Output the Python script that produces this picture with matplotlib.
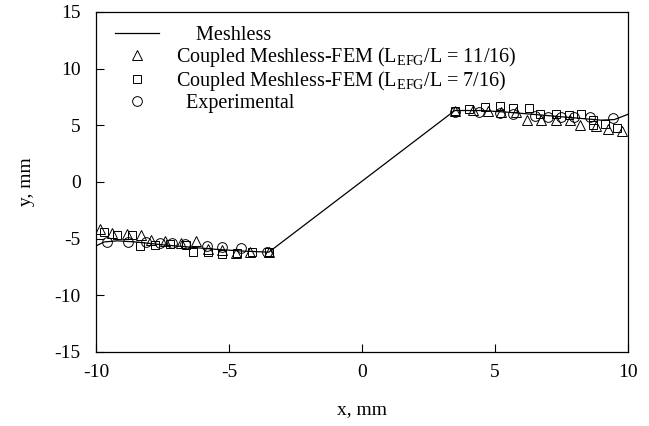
import matplotlib
matplotlib.use('Agg')
import matplotlib.pyplot as plt

plt.rcParams['font.family'] = ['Liberation Serif', 'DejaVu Serif']
plt.rcParams['mathtext.fontset'] = 'custom'
plt.rcParams['mathtext.rm'] = 'Liberation Serif'
plt.rcParams['axes.unicode_minus'] = False

# Meshless solution (line)
mesh_x = [-10, -9.7, -9.2, -8.5, -7.5, -6.5, -5.5, -4.5, -3.5,
          3.5, 4.5, 5.5, 6.5, 7.5, 8.5, 9.0, 9.5, 10]
mesh_y = [-5.65, -5.3, -5.2, -5.3, -5.55, -5.75, -5.95, -6.1, -6.2,
          6.3, 6.3, 6.15, 5.95, 5.75, 5.55, 5.45, 5.5, 5.95]

# Coupled Meshless-FEM, L_EFG/L = 11/16 (triangles)
tri_x = [-9.85, -9.4, -8.85, -8.3, -7.95, -7.4, -6.8, -6.25, -5.8, -5.25, -4.75, -4.2, -3.5,
         3.5, 4.2, 4.75, 5.25, 5.8, 6.2, 6.75, 7.3, 7.85, 8.2, 8.8, 9.25, 9.8]
tri_y = [-4.2, -4.5, -4.6, -4.7, -5.1, -5.25, -5.35, -5.2, -5.9, -6.0, -6.25, -6.2, -6.2,
         6.3, 6.35, 6.3, 6.2, 6.2, 5.5, 5.5, 5.45, 5.5, 5.05, 4.95, 4.7, 4.45]

# Coupled Meshless-FEM, L_EFG/L = 7/16 (squares)
sq_x = [-9.7, -9.2, -8.65, -8.35, -7.8, -7.2, -6.6, -6.35, -5.8, -5.25, -4.7, -4.15, -3.5,
        3.5, 4.05, 4.65, 5.2, 5.7, 6.3, 6.7, 7.3, 7.8, 8.25, 8.7, 8.7, 9.15, 9.6]
sq_y = [-4.4, -4.7, -4.7, -5.65, -5.55, -5.5, -5.6, -6.15, -6.15, -6.4, -6.25, -6.15, -6.2,
        6.3, 6.45, 6.6, 6.7, 6.5, 6.55, 5.95, 5.95, 5.9, 6.0, 5.5, 5.05, 5.1, 4.75]

# Experimental (circles)
exp_x = [-9.57, -8.78, -8.13, -7.59, -7.15, -6.65, -5.83, -5.27, -4.53, -3.55,
         3.5, 4.4, 5.2, 5.7, 6.5, 7.0, 7.5, 8.0, 8.6, 9.45]
exp_y = [-5.33, -5.33, -5.33, -5.39, -5.42, -5.5, -5.63, -5.71, -5.8, -6.15,
         6.2, 6.2, 6.1, 6.0, 5.85, 5.75, 5.7, 5.75, 5.7, 5.65]

fig = plt.figure(figsize=(6.49, 4.26), dpi=100)
ax = fig.add_axes([0.148, 0.174, 0.819, 0.798])

ax.plot(mesh_x, mesh_y, color='black', lw=0.9, label='    Meshless')
ax.plot(tri_x, tri_y, ls='none', marker='^', ms=6.5, mfc='none', mec='black', mew=0.7,
        label=r'Coupled Meshless-FEM (L$_{\rm EFG}$/L = 11/16)')
ax.plot(sq_x, sq_y, ls='none', marker='s', ms=5.5, mfc='none', mec='black', mew=0.7,
        label=r'Coupled Meshless-FEM (L$_{\rm EFG}$/L = 7/16)')
ax.plot(exp_x, exp_y, ls='none', marker='o', ms=7, mfc='none', mec='black', mew=0.7,
        label='  Experimental')

ax.set_xlim(-10, 10)
ax.set_ylim(-15, 15)
ax.set_xticks([-10, -5, 0, 5, 10])
ax.set_yticks([-15, -10, -5, 0, 5, 10, 15])
ax.tick_params(direction='in', length=6, width=0.8, labelsize=14, pad=9)
ax.tick_params(axis='y', pad=11)
for s in ax.spines.values():
    s.set_linewidth(0.9)

ax.set_xlabel('x, mm', fontsize=14, labelpad=14)
ax.set_ylabel('y, mm', fontsize=14, labelpad=14)

ax.legend(loc='upper left', frameon=False, fontsize=14.5, handlelength=2.2,
          handletextpad=0.85, labelspacing=0.0, borderaxespad=0.2,
          bbox_to_anchor=(0.012, 0.993))

fig.savefig('out.png', dpi=100)
